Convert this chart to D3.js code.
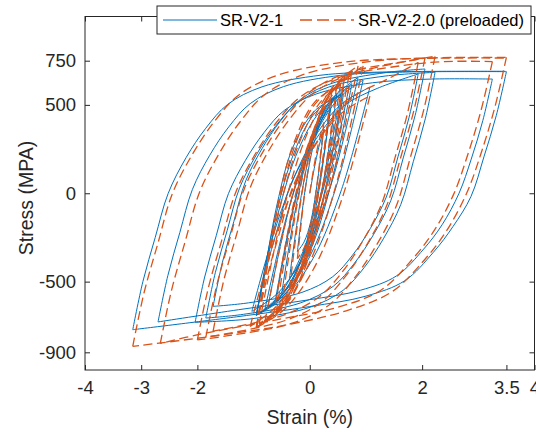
<!DOCTYPE html>
<html>
<head>
<meta charset="utf-8">
<script src="https://cdn.jsdelivr.net/npm/d3@7"></script>
<style>
  body { margin: 0; background: #fff; }
  svg { display: block; font-family: "Liberation Sans", Arial, Helvetica, sans-serif; }
</style>
</head>
<body>
<svg id="chart" width="536" height="432"></svg>
<script>
// series names as in the legend
const seriesNames = ['SR-V2-1', 'SR-V2-2.0 (preloaded)']

// axis ticks
const xTicks = [-4, -3, -2, 0, 2, 3.5, 4]
const yTicks = [-900, -500, 0, 500, 750]
const xDomain = [-4, 4]
const yDomain = [-1000, 1000]

// SR-V2-1 : branches [strain %, stress MPa], tip to tip
const srV21 = [
  [[0,0],[0.08,140],[0.16,260],[0.25,360]],
  [[0.25,360],[0.13,50],[0.02,-158],[-0.10,-275],[-0.22,-330]],
  [[-0.22,-330],[-0.075,35],[0.07,277],[0.215,415],[0.36,480]],
  [[0.36,480],[0.18,48],[0,-240],[-0.18,-403],[-0.36,-480]],
  [[-0.36,-480],[-0.15,-12],[0.06,300],[0.27,477],[0.48,560]],
  [[0.48,560],[0.235,52],[-0.01,-288],[-0.255,-480],[-0.50,-570]],
  [[-0.50,-570],[-0.225,-43],[0.05,308],[0.325,506],[0.60,600]],
  [[0.60,600],[0.295,51],[-0.01,-315],[-0.315,-522],[-0.62,-620]],
  [[-0.62,-620],[-0.28,-62],[0.065,310],[0.41,521],[0.75,620]],
  [[0.75,620],[0.375,48],[0,-333],[-0.375,-548],[-0.75,-650]],
  [[-0.75,-650],[-0.35,-63],[0.055,329],[0.46,551],[0.86,655]],
  [[0.86,655],[0.39,60],[-0.085,-337],[-0.56,-562],[-1.03,-668]],
  [[-1.03,-668],[-0.505,-97],[0.02,283],[0.545,499],[1.07,600]],
  [[1.07,600],[0.565,20],[0.06,-368],[-0.445,-587],[-0.95,-690]],
  [[-0.95,-690],[-0.575,-128],[-0.20,248],[0.175,460],[0.55,560]],
  [[0.55,560],[0.2125,11],[-0.125,-355],[-0.4625,-562],[-0.80,-660]],
  [[-0.80,-660],[-0.3625,-75],[0.075,315],[0.5125,536],[0.95,640]],
  [[0.95,640],[0.475,42],[0,-358],[-0.475,-584],[-0.95,-690]],
  [[-0.95,-690],[-0.6125,-137],[-0.275,233],[0.0625,442],[0.40,540]],
  [[0.40,540],[0.15,23],[-0.10,-323],[-0.35,-518],[-0.60,-610]],
  [[-0.60,-610],[-0.275,-65],[0.05,298],[0.375,503],[0.70,600]],
  [[0.70,600],[0.2875,20],[-0.125,-368],[-0.5375,-587],[-0.95,-690]],
  [[-0.95,-690],[-0.78,-400],[-0.58,-60],[-0.3,260],[0.1,470],[0.6,560]],
  [[0.6,560],[0.45,300],[0.22,0],[-0.12,-330],[-0.55,-580],[-0.95,-690]],
  [[-0.95,-690],[-0.782,-436],[-0.576,-203],[-0.361,32],[-0.062,219],[0.266,375],[0.63,500],[1.20,593],[1.93,675]],
  [[1.93,675],[1.768,430],[1.57,206],[1.363,-21],[1.075,-201],[0.76,-351],[0.41,-472],[-0.14,-561],[-1.09,-620],[-1.72,-640]],
  [[-1.72,-640],[-1.554,-390],[-1.352,-161],[-1.14,70],[-0.846,254],[-0.524,408],[-0.165,531],[0.396,622],[1.36,683],[2.05,703]],
  [[2.05,703],[1.876,441],[1.664,200],[1.442,-42],[1.133,-235],[0.795,-396],[0.42,-526],[-0.17,-621],[-1.18,-685],[-1.85,-706]],
  [[-1.85,-706],[-1.679,-447],[-1.469,-210],[-1.25,29],[-0.946,220],[-0.612,378],[-0.241,506],[0.34,601],[1.34,663],[2.23,684]],
  [[2.23,684],[2.056,421],[1.843,179],[1.62,-64],[1.31,-258],[0.972,-419],[0.594,-549],[0.004,-645],[-1.01,-709],[-2.04,-730]],
  [[-2.04,-730],[-1.87,-474],[-1.663,-239],[-1.447,-2],[-1.145,186],[-0.815,343],[-0.448,470],[0.127,563],[1.116,625],[2.16,646],[3.25,646]],
  [[3.25,646],[3.081,412],[2.874,193],[2.657,0],[2.356,-178],[2.027,-316],[1.547,-467],[0.90,-549],[-0.04,-604],[-1.27,-659],[-2.70,-728]],
  [[-2.70,-728],[-2.525,-465],[-2.312,-222],[-2.089,21],[-1.78,215],[-1.44,376],[-1.06,507],[-0.47,603],[0.55,667],[1.6,685],[3.50,688]],
  [[3.50,688],[3.32,440],[3.10,206],[2.87,-18],[2.55,-188],[2.20,-334],[1.69,-495],[1.00,-582],[0.0,-641],[-1.30,-699],[-3.15,-772]],
  [[-3.15,-772],[-2.97,-500],[-2.75,-250],[-2.52,-1],[-2.20,202],[-1.85,368],[-1.46,503],[-0.85,602],[0.20,668],[1.3,686],[3.48,690]]
]

// SR-V2-2.0 (preloaded)
const srV22 = [
  [[0,0],[0.08,160],[0.16,290],[0.25,400]],
  [[0.25,400],[0.13,53],[0.015,-178],[-0.10,-308],[-0.22,-370]],
  [[-0.22,-370],[-0.075,35],[0.07,305],[0.215,458],[0.36,530]],
  [[0.36,530],[0.18,48],[0,-273],[-0.18,-454],[-0.36,-540]],
  [[-0.36,-540],[-0.15,-22],[0.06,323],[0.27,518],[0.48,610]],
  [[0.48,610],[0.235,47],[-0.01,-328],[-0.255,-540],[-0.50,-640]],
  [[-0.50,-640],[-0.22,-55],[0.06,335],[0.34,556],[0.62,660]],
  [[0.62,660],[0.30,48],[-0.015,-360],[-0.33,-591],[-0.65,-700]],
  [[-0.65,-700],[-0.30,-74],[0.05,343],[0.40,579],[0.75,690]],
  [[0.75,690],[0.34,46],[-0.075,-383],[-0.49,-626],[-0.90,-740]],
  [[-0.90,-740],[-0.46,-83],[-0.02,356],[0.42,604],[0.86,721]],
  [[0.86,721],[0.38,58],[-0.10,-385],[-0.58,-635],[-1.06,-753]],
  [[-1.06,-753],[-0.53,-167],[0.005,224],[0.54,446],[1.07,550]],
  [[1.07,550],[0.565,-40],[0.06,-433],[-0.445,-655],[-0.95,-760]],
  [[-0.95,-760],[-0.575,-139],[-0.20,275],[0.175,510],[0.55,620]],
  [[0.55,620],[0.2125,13],[-0.125,-393],[-0.4625,-622],[-0.80,-730]],
  [[-0.80,-730],[-0.3625,-78],[0.075,358],[0.5125,604],[0.95,720]],
  [[0.95,720],[0.475,54],[0,-390],[-0.475,-642],[-0.95,-760]],
  [[-0.95,-760],[-0.6125,-148],[-0.275,260],[0.0625,491],[0.40,600]],
  [[0.40,600],[0.15,24],[-0.10,-360],[-0.35,-578],[-0.60,-680]],
  [[-0.60,-680],[-0.275,-73],[0.05,333],[0.375,562],[0.70,670]],
  [[0.70,670],[0.2875,27],[-0.125,-403],[-0.5375,-646],[-0.95,-760]],
  [[-0.95,-760],[-0.78,-450],[-0.58,-80],[-0.3,270],[0.1,520],[0.6,620]],
  [[0.6,620],[0.45,340],[0.22,10],[-0.12,-360],[-0.55,-640],[-0.95,-760]],
  [[-0.95,-760],[-0.765,-481],[-0.54,-224],[-0.303,34],[0.026,239],[0.385,410],[0.786,548],[1.41,650],[1.93,740]],
  [[1.93,740],[1.743,457],[1.514,197],[1.274,-64],[0.941,-272],[0.577,-446],[0.171,-585],[-0.464,-689],[-1.72,-780]],
  [[-1.72,-780],[-1.53,-493],[-1.297,-228],[-1.053,37],[-0.715,249],[-0.345,425],[0.068,567],[0.713,672],[2.05,765]],
  [[2.05,765],[1.855,471],[1.617,201],[1.368,-71],[1.022,-287],[0.643,-467],[0.221,-613],[-0.439,-720],[-1.85,-815]],
  [[-1.85,-815],[-1.654,-519],[-1.414,-247],[-1.164,26],[-0.815,244],[-0.434,425],[-0.01,571],[0.655,680],[1.798,751],[2.23,775]],
  [[2.23,775],[2.032,476],[1.79,202],[1.538,-74],[1.186,-294],[0.801,-477],[0.373,-625],[-0.298,-734],[-1.452,-806],[-2.0,-830]],
  [[-2.0,-830],[-1.806,-537],[-1.568,-268],[-1.32,3],[-0.975,219],[-0.597,399],[-0.176,543],[0.482,651],[1.615,721],[2.4,745],[3.25,745]],
  [[3.25,745],[3.053,474],[2.813,219],[2.562,-5],[2.213,-212],[1.83,-372],[1.273,-547],[0.52,-643],[-0.572,-715],[-1.99,-800],[-2.66,-850]],
  [[-2.66,-850],[-2.46,-549],[-2.216,-272],[-1.961,6],[-1.606,228],[-1.218,413],[-0.786,562],[-0.109,672],[1.055,745],[2.2,766],[3.50,769]],
  [[3.50,769],[3.298,491],[3.052,229],[2.794,1],[2.436,-212],[2.044,-376],[1.473,-555],[0.70,-660],[-0.42,-745],[-1.876,-815],[-3.15,-866]],
  [[-3.15,-866],[-2.949,-563],[-2.703,-284],[-2.446,-3],[-2.089,220],[-1.698,406],[-1.262,556],[-0.581,667],[0.592,741],[1.8,762],[3.48,765]]
]

const W = 536, H = 432
const M = { top: 16.5, left: 85, right: 1.5, bottom: 62 }
const AXIS = '#262626'
const BLUE = '#0072BD', RED = '#D95319'

const svg = d3.select('#chart')

const x = d3.scaleLinear().domain(xDomain).range([M.left, W - M.right])
const y = d3.scaleLinear().domain(yDomain).range([H - M.bottom, M.top])

svg.append('defs').append('clipPath').attr('id', 'plot')
  .append('rect')
  .attr('x', M.left).attr('y', M.top)
  .attr('width', W - M.left - M.right).attr('height', H - M.top - M.bottom)

// curves, one path per branch so the tips stay sharp
const line = d3.line()
  .x(d => x(d[0]))
  .y(d => y(d[1]))
  .curve(d3.curveCatmullRom.alpha(0.5))

const plot = svg.append('g').attr('clip-path', 'url(#plot)')

plot.append('g')
  .selectAll('path')
  .data(srV21)
  .join('path')
  .attr('d', line)
  .attr('fill', 'none')
  .attr('stroke', BLUE)
  .attr('stroke-width', 1)

plot.append('g')
  .selectAll('path')
  .data(srV22)
  .join('path')
  .attr('d', line)
  .attr('fill', 'none')
  .attr('stroke', RED)
  .attr('stroke-width', 1.3)
  .attr('stroke-dasharray', '9,4.5')

// axes (MATLAB style: inward ticks, box on)
const fmt = d => String(d)

function styleAxis(g) {
  g.select('.domain').remove()
  g.selectAll('line').attr('stroke', AXIS)
  g.selectAll('text').attr('fill', AXIS).attr('font-size', 18.5)
  g.attr('font-family', null)
}

svg.append('g')
  .attr('transform', 'translate(0,' + (H - M.bottom) + ')')
  .call(d3.axisBottom(x).tickValues(xTicks).tickFormat(fmt).tickSizeInner(-5).tickSizeOuter(0).tickPadding(11))
  .call(styleAxis)

svg.append('g')
  .attr('transform', 'translate(0,' + M.top + ')')
  .call(d3.axisTop(x).tickValues(xTicks).tickFormat('').tickSizeInner(-5).tickSizeOuter(0))
  .call(styleAxis)

svg.append('g')
  .attr('transform', 'translate(' + M.left + ',0)')
  .call(d3.axisLeft(y).tickValues(yTicks).tickFormat(fmt).tickSizeInner(-5).tickSizeOuter(0).tickPadding(9))
  .call(styleAxis)

svg.append('g')
  .attr('transform', 'translate(' + (W - M.right) + ',0)')
  .call(d3.axisRight(y).tickValues(yTicks).tickFormat('').tickSizeInner(-5).tickSizeOuter(0))
  .call(styleAxis)

svg.append('rect')
  .attr('x', M.left).attr('y', M.top)
  .attr('width', W - M.left - M.right).attr('height', H - M.top - M.bottom)
  .attr('fill', 'none').attr('stroke', AXIS).attr('stroke-width', 1)

// axis labels
svg.append('text')
  .attr('x', (M.left + W - M.right) / 2).attr('y', 424)
  .attr('text-anchor', 'middle').attr('font-size', 19.5).attr('fill', AXIS)
  .text('Strain (%)')

svg.append('text')
  .attr('transform', 'translate(33,198) rotate(-90)')
  .attr('text-anchor', 'middle').attr('font-size', 19.5).attr('fill', AXIS)
  .text('Stress (MPA)')

// legend
const lg = svg.append('g')
lg.append('rect')
  .attr('x', 157).attr('y', 6).attr('width', 374).attr('height', 28)
  .attr('fill', '#fff').attr('stroke', AXIS).attr('stroke-width', 1)

const items = [
  { name: seriesNames[0], color: BLUE, dash: null, width: 1, x0: 163, tx: 220 },
  { name: seriesNames[1], color: RED, dash: '12,5', width: 1.3, x0: 300, tx: 358 }
]
items.forEach(it => {
  lg.append('line')
    .attr('x1', it.x0).attr('x2', it.x0 + 54).attr('y1', 20).attr('y2', 20)
    .attr('stroke', it.color).attr('stroke-width', it.width)
    .attr('stroke-dasharray', it.dash)
  lg.append('text')
    .attr('x', it.tx).attr('y', 20).attr('dy', '0.36em')
    .attr('font-size', 16.5).attr('fill', '#000')
    .text(it.name)
})
</script>
</body>
</html>
